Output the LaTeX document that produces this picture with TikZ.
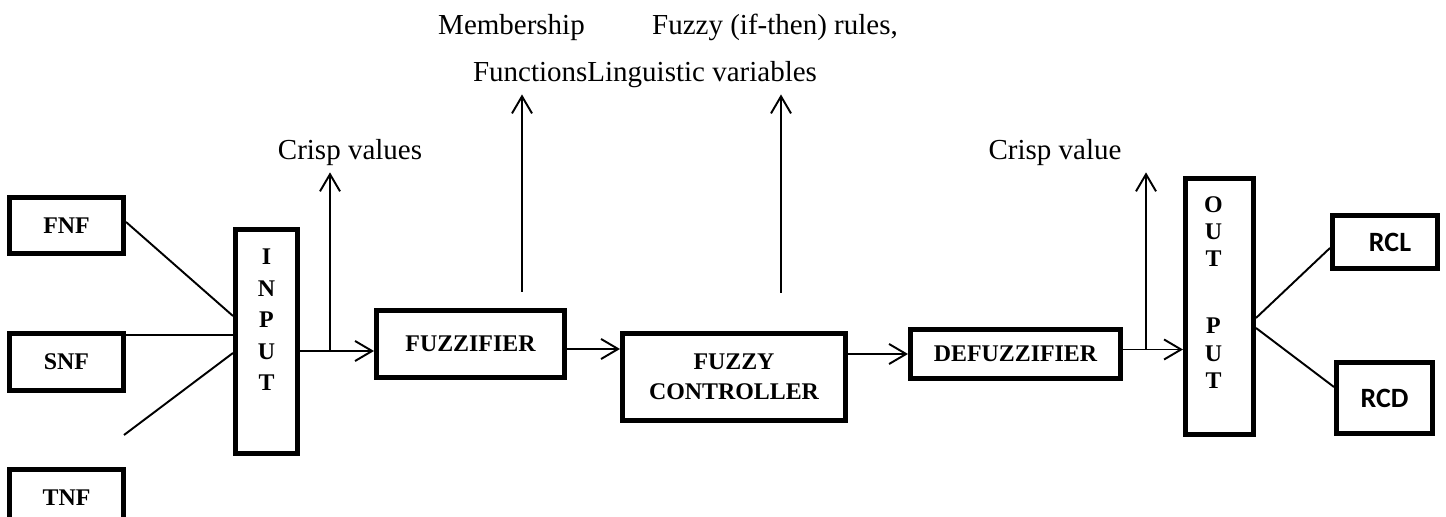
\documentclass[tikz,border=0pt]{standalone}
\usepackage{fontspec}
\setmainfont{Liberation Serif}
\newfontfamily\calfont{Carlito}
\usepackage{tikz}
\usetikzlibrary{arrows.meta,positioning,calc}

\newcommand{\boxfont}{\fontsize{13.6}{17}\selectfont\bfseries}
\newcommand{\notefont}{\fontsize{16.5}{19.8}\selectfont}

\begin{document}
\begin{tikzpicture}[
            box/.style={draw, rectangle, line width=2.85pt, inner sep=0pt, align=center, font=\boxfont},
            bar/.style={box, minimum width=1.24cm},
            link/.style={line width=1.1pt},
            arr/.style={link, -{Straight Barb[length=9.7pt,width=11.4pt]}},
            note/.style={font=\notefont, anchor=base}
            ]
            \useasboundingbox (0,0) rectangle (28.92,10.34);

            % Nodes with manual coordinates
            \node[box, minimum width=2.28cm, minimum height=1.12cm] (fnf) at (1.33,5.83) {FNF};
            \node[box, minimum width=2.28cm, minimum height=1.14cm] (snf) at (1.33,3.10) {SNF};
            \node[box, minimum width=2.28cm, minimum height=1.14cm] (tnf) at (1.33,0.38) {TNF};
            \node[bar, minimum height=4.48cm,
                  label={[align=center, font=\fontsize{13.6}{17.9}\selectfont\bfseries, yshift=0.43cm]center:{I\\N\\P\\U\\T}}] (input) at (5.33,3.51) {};
            \node[box, minimum width=3.76cm, minimum height=1.34cm] (fuzz) at (9.41,3.46) {FUZZIFIER};
            \node[box, minimum width=4.46cm, minimum height=1.74cm] (ctrl) at (14.68,2.80) {FUZZY\\CONTROLLER};
            \node[box, minimum width=4.2cm, minimum height=0.98cm] (defuzz) at (20.31,3.26) {DEFUZZIFIER};
            \node[bar, minimum width=1.36cm, minimum height=5.12cm,
                  label={[align=center, font=\fontsize{13.6}{15.6}\selectfont\bfseries, xshift=-0.12cm, yshift=0.28cm]center:{O\\U\\T\\[0.79cm]P\\U\\T}}] (output) at (24.39,4.21) {};
            \node[box, font=\fontsize{15.9}{19}\calfont\bfseries, minimum width=2.1cm, minimum height=1.06cm] (rcl) at (27.70,5.50) {\hspace{0.2cm}RCL};
            \node[box, font=\fontsize{15.9}{19}\calfont\bfseries, minimum width=1.92cm, minimum height=1.42cm] (rcd) at (27.69,2.38) {RCD};

            % Texts over the arrows
            \node[note] (crisp) at (7.0,7.14) {Crisp values};
            \node[note] (crispout) at (21.1,7.14) {Crisp value};
            \node[note] (memb) at (10.23,9.64) {Membership};
            \node[note] (rules) at (15.5,9.64) {Fuzzy (if-then) rules,};
            \node[note] (funcs) at (12.9,8.7) {FunctionsLinguistic variables};

            % Lines into the input
            \coordinate (loose) at (2.48,1.64);
            \draw[link] ([yshift=0.07cm]fnf.east) -- ([yshift=0.51cm]input.west);
            \draw[link] ([yshift=0.54cm]snf.east) -- ([yshift=0.54cm]snf.east -| input.west);
            \draw[link] (loose) -- ([yshift=-0.23cm]input.west);

            % Arrows
            \draw[arr] ([yshift=-0.14cm]fuzz.west -| input.east) -- ([yshift=-0.14cm]fuzz.west);
            \draw[arr] ([yshift=-0.1cm]fuzz.east) -- ([yshift=-0.1cm]fuzz.east -| ctrl.west);
            \draw[arr] (defuzz.west -| ctrl.east) -- (defuzz.west);
            \draw[arr] ([yshift=0.09cm]defuzz.east) -- ([yshift=0.09cm]defuzz.east -| output.west);

            % Arrows going up
            \coordinate (tapin) at ([xshift=0.6cm,yshift=-0.14cm]fuzz.west -| input.east);
            \coordinate (tapout) at ([xshift=0.46cm,yshift=0.09cm]defuzz.east);
            \draw[arr] (tapin) -- (tapin |- crisp.south);
            \draw[arr] (tapout) -- (tapout |- crispout.south);
            \draw[arr] ([xshift=1.03cm,yshift=0.32cm]fuzz.north) -- ([xshift=1.03cm]fuzz.north |- funcs.south);
            \draw[arr] ([xshift=0.94cm,yshift=0.76cm]ctrl.north) -- ([xshift=0.94cm]ctrl.north |- funcs.south);

            % Lines out of the output
            \draw[link] ([yshift=-0.23cm]output.east) -- ([yshift=-0.12cm]rcl.west);
            \draw[link] ([yshift=-0.43cm]output.east) -- ([yshift=0.22cm]rcd.west);
        \end{tikzpicture}
\end{document}
